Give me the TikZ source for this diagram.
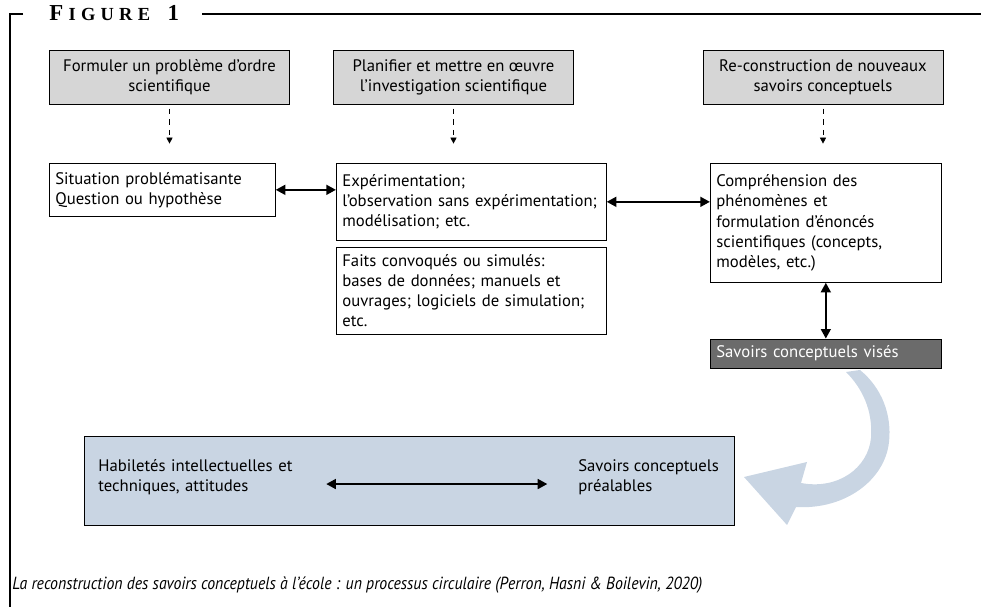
\documentclass[tikz,border=0pt]{standalone}
\usepackage{fontspec}
\setmainfont{PT Sans}
\newfontfamily\titrefont{Liberation Serif}
\usetikzlibrary{positioning,arrows.meta}
\definecolor{grisclair}{HTML}{D6D6D6}
\definecolor{grisfonce}{HTML}{6B6B6B}
\definecolor{bleupale}{HTML}{C9D5E3}

\begin{document}
\begin{tikzpicture}[
        x=0.02cm, y=-0.02cm,
        font=\fontsize{9.5}{11.4}\selectfont,
        etape/.style={draw, fill=grisclair, align=center, minimum width=4.8cm, minimum height=1.08cm, inner sep=2pt},
        boite/.style={draw, align=left, anchor=north west, inner xsep=0.12cm, inner ysep=2pt},
        fleche/.style={line width=1.5pt, {Triangle[length=5.5pt,width=5.5pt]}-{Triangle[length=5.5pt,width=5.5pt]}},
        pointille/.style={dashed, line width=0.5pt, -{Triangle[length=3.5pt,width=3.5pt]}, shorten <=2.5pt, shorten >=11pt}
    ]
        \useasboundingbox (0,0) rectangle (981,607);

        % Cadre et titre
        \draw[line width=0.6pt] (23,14) -- (10,14) -- (10,607);
        \draw[line width=0.6pt] (202,14) -- (981,14);
        \node[anchor=base west, inner sep=0pt, font=\titrefont\bfseries\fontsize{13}{14}\selectfont] (titre) at (49,21)
            {F\hspace{3pt}{\fontsize{10.5}{12}\selectfont I\hspace{3pt}G\hspace{3pt}U\hspace{3pt}R\hspace{3pt}E}\hspace{10pt}1};

        % Etapes
        \node[etape] (g1) at (169.5,77) {Formuler un problème d’ordre\\scientifique};
        \node[etape] (g2) at (453.5,77) {Planifier et mettre en œuvre\\l’investigation scientifique};
        \node[etape] (g3) at (823,77) {Re-construction de nouveaux\\savoirs conceptuels};

        % Contenus
        \node[boite, text width=4.28cm, minimum height=1.06cm] (sit) at (49,163)
            {Situation problématisante\\Question ou hypothèse};
        \node[boite, text width=5.16cm, minimum height=1.54cm] (exp) at (336,163)
            {Expérimentation;\\l’observation sans expérimentation;\\modélisation; etc.};
        \node[boite, text width=5.16cm, minimum height=1.74cm, below=0.12cm of exp.south west, anchor=north west] (faits)
            {Faits convoqués ou simulés:\\bases de données; manuels et\\ouvrages; logiciels de simulation;\\etc.};
        \node[boite, text width=4.38cm, minimum height=2.38cm] (comp) at (710,163)
            {Compréhension des\\phénomènes et\\formulation d’énoncés\\scientifiques (concepts,\\modèles, etc.)};
        \node[boite, text width=4.38cm, minimum height=0.58cm, fill=grisfonce, text=white, below=1.12cm of comp.south west, anchor=north west] (vises)
            {Savoirs conceptuels visés};

        % Liens
        \draw[pointille] (g1.south) -- (g1.south |- sit.north);
        \draw[pointille] (g2.south) -- (g2.south |- exp.north);
        \draw[pointille] (g3.south) -- (g3.south |- comp.north);
        \draw[fleche] (sit.east) -- (sit.east -| exp.west);
        \draw[fleche] (exp.east) -- (exp.east -| comp.west);
        \draw[fleche] (comp.south) -- (vises.north);

        % Acquis
        \node[draw, line width=0.7pt, fill=bleupale, anchor=north west, minimum width=13cm, minimum height=1.78cm] (cadre) at (84,436) {};
        \node[align=left, anchor=west, text width=4.36cm, inner xsep=0.12cm] (hab) at (92,477)
            {Habiletés intellectuelles et\\techniques, attitudes};
        \node[align=left, anchor=west, inner xsep=0.12cm] (prea) at (572,477)
            {Savoirs conceptuels\\préalables};
        \draw[fleche, shorten <=2pt, shorten >=14pt] ([yshift=-4pt]hab.east) -- ([yshift=-4pt]prea.west);

        % Retour circulaire
        \fill[bleupale] (860,370) .. controls (882,388) and (892,415) .. (889,442)
            .. controls (885,480) and (845,510) .. (796,507)
            -- (787,525) -- (744,477) -- (807,462) -- (801,483)
            .. controls (838,490) and (868,468) .. (871,438)
            .. controls (873,410) and (862,388) .. (846,372) -- cycle;

        % Legende
        \node[anchor=base west, inner sep=0pt] (legende) at (12,590)
            {\scalebox{0.9}[1]{\fontsize{10}{12}\selectfont\itshape La reconstruction des savoirs conceptuels à l’école : un processus circulaire (Perron, Hasni \& Boilevin, 2020)}};
    \end{tikzpicture}
\end{document}
